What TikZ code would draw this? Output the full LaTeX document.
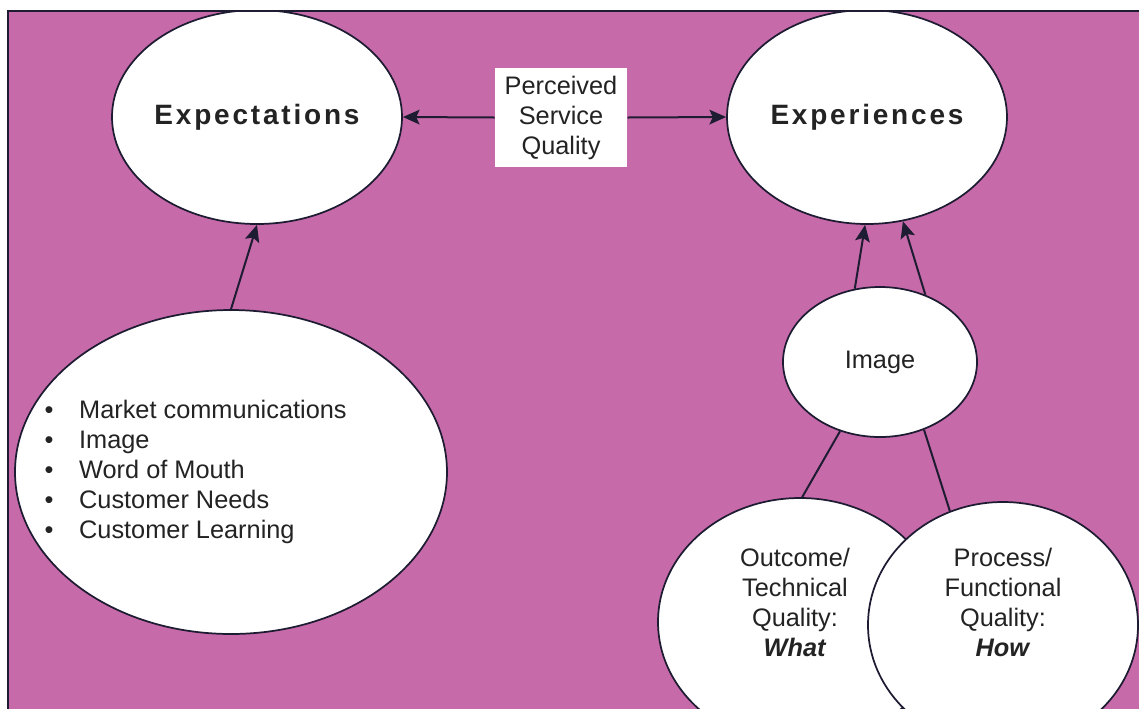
\documentclass[tikz,border=0pt]{standalone}
\usepackage{fontspec}
\setmainfont{Liberation Sans}
\newfontfamily\spacedfont[LetterSpace=10]{Liberation Sans}
\usetikzlibrary{shapes.geometric,arrows.meta}
\definecolor{panelpink}{RGB}{199,106,170}
\definecolor{inkline}{RGB}{30,28,50}
\definecolor{inktext}{RGB}{35,35,35}
\tikzset{every picture/.style={line width=0.75pt}}
\tikzset{
  oval/.style={ellipse,draw=inkline,line width=1.3pt,fill=white,inner sep=0pt},
  conn/.style={draw=inkline,line width=1.5pt},
  arrowconn/.style={conn,-{Stealth[length=12.5pt,width=11pt,inset=2.5pt]}},
  txt/.style={text=inktext,font=\fontsize{19}{22.5}\selectfont,align=center,inner sep=0.75pt},
  headtxt/.style={text=inktext,font=\fontsize{21}{25}\spacedfont\bfseries}
}
\newcommand{\bul}[1]{\makebox[26pt][l]{\textbullet}#1}

\begin{document}
\begin{tikzpicture}[x=0.75pt,y=0.75pt,yscale=-1,xscale=1]
	\useasboundingbox (0,0) rectangle (1139,708);
	\fill[white] (0,0) rectangle (1139,708);

	\begin{scope}
	\clip (8,11) rectangle (1150,720);
	\fill[panelpink] (8,11) rectangle (1150,720);

	%Shape: Ellipse
	\node[oval,headtxt,minimum width=210pt,minimum height=160.5pt] (expect) at (257,117) {Expectations};
	%Shape: Ellipse
	\node[oval,headtxt,minimum width=210pt,minimum height=160.5pt] (exper) at (867,117) {Experiences};
	%Shape: Rectangle
	\node[fill=white,txt,minimum width=99pt,minimum height=74.25pt] (psq) at (561,117.5) {Perceived\\Service\\Quality};
	%Shape: Ellipse
	\node[oval,minimum width=324pt,minimum height=243pt] (inputs) at (231,472) {};
	%Shape: Ellipse
	\node[oval,txt,minimum width=145.5pt,minimum height=112.5pt] (img) at (880,362) {Image};
	%Shape: Ellipse
	\node[oval,minimum width=213pt,minimum height=186pt] (outc) at (800,622) {};
	%Shape: Ellipse
	\node[oval,minimum width=202.5pt,minimum height=184.5pt] (proc) at (1003,625) {};

	% Text Node
	\node[txt,align=left,anchor=west] (inlist) at (43,471.5) {\bul{Market communications}\\\bul{Image}\\\bul{Word of Mouth}\\\bul{Customer Needs}\\\bul{Customer Learning}};
	% Text Node
	\node[txt] (outctext) at (795,602) {Outcome/\\Technical\\Quality:\\\textbf{\textit{What}}};
	% Text Node
	\node[txt] (proctext) at (1003,602) {Process/\\Functional\\Quality:\\\textbf{\textit{How}}};

	%Straight Lines
	\draw[arrowconn] (psq.west) -- (expect.east);
	\draw[arrowconn] (psq.east) -- (exper.west);
	\draw[arrowconn] (inputs.north) -- (expect.south);
	\draw[arrowconn] (img.109) -- (exper.269);
	\draw[arrowconn] (img.56) -- (exper.289);
	\draw[conn] (img.240) -- (outc.89);
	\draw[conn] (img.303) -- (proc.115);
	\end{scope}

	%Frame
	\draw[inkline,line width=1.5pt] (8,720) -- (8,11) -- (1150,11);
\end{tikzpicture}
\end{document}
